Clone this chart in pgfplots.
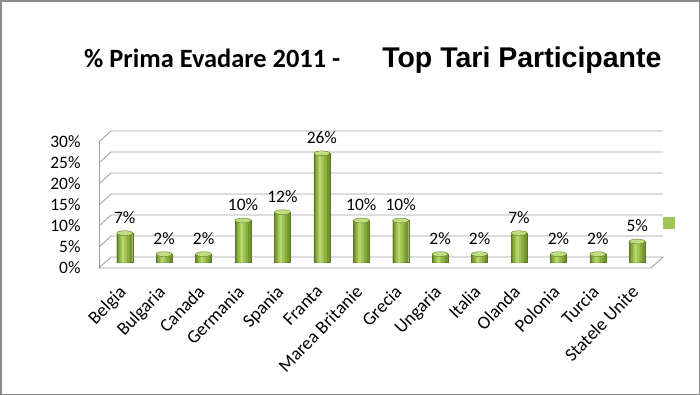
\documentclass[border=0pt]{standalone}
\usepackage{fontspec}
\setmainfont{Carlito}
\newfontfamily\arialf{Liberation Sans}
\usepackage{pgfplots}
\pgfplotsset{compat=1.18}
\definecolor{barA}{HTML}{74942F}
\definecolor{barB}{HTML}{8AAE42}
\definecolor{barC}{HTML}{A0C456}
\definecolor{barD}{HTML}{B6D86C}
\definecolor{bartop}{HTML}{C0DE80}
\definecolor{gridc}{HTML}{9E9E9E}
\definecolor{framec}{HTML}{8C8C8C}
\begin{document}
\begin{tikzpicture}
\draw[framec, line width=1.5bp] (0.75bp,-0.75bp) rectangle (699.25bp,-394.25bp);
\node[anchor=base west, inner sep=0] at (84bp,-67bp) {\fontsize{26.5}{30}\selectfont\bfseries \% Prima Evadare 2011 -\hspace*{42bp}{\arialf\fontsize{28.6}{30}\selectfont\bfseries Top Tari Participante}};
\begin{axis}[
  at={(105bp,-262.5bp)}, anchor=south west,
  scale only axis, width=552bp, height=126bp,
  xmin=-0.5, xmax=13.5, ymin=0, ymax=30,
  axis line style={draw=none}, tick style={draw=none},
  clip=false,
  /pgf/number format/assume math mode=true,
  xtick={0,...,13},
  xticklabels={Belgia,Bulgaria,Canada,Germania,Spania,Franta,Marea Britanie,Grecia,Ungaria,Italia,Olanda,Polonia,Turcia,Statele Unite},
  x tick label style={xshift=-7bp, yshift=-20bp, rotate=46, anchor=north east, font=\fontsize{18.5}{18.5}\selectfont, inner sep=1bp},
  ytick={0,5,...,30},
  yticklabels={0\%,5\%,10\%,15\%,20\%,25\%,30\%},
  y tick label style={anchor=east, font=\fontsize{17.5}{17.5}\selectfont, xshift=-21bp, yshift=-5.5bp},
  legend style={draw=none, fill=none, at={(rel axis cs:1,0.317)}, anchor=west, xshift=6bp, inner sep=0pt},
  legend image code/.code={\fill[barC] (0bp,-5.5bp) rectangle (11bp,5.5bp);},
]
\pgfplotsinvokeforeach{5,10,...,30}{
  \draw[gridc, line width=0.8bp] ([xshift=-6bp,yshift=-5.5bp]axis cs:-0.5,#1) -- ([xshift=6bp,yshift=5.5bp]axis cs:-0.5,#1) -- ([xshift=6bp,yshift=5.5bp]axis cs:13.5,#1);
}
\draw[gridc, line width=0.8bp] ([xshift=-6bp,yshift=-5.5bp]axis cs:-0.5,0) -- ([xshift=-6bp,yshift=-5.5bp]axis cs:-0.5,30);
\draw[gridc, line width=0.8bp, fill=white] ([xshift=-6bp,yshift=-5.5bp]axis cs:-0.5,0) -- ([xshift=-6bp,yshift=-5.5bp]axis cs:13.5,0) -- ([xshift=6bp,yshift=5.5bp]axis cs:13.5,0) -- ([xshift=6bp,yshift=5.5bp]axis cs:-0.5,0) -- cycle;
\addplot[ybar, bar shift=0pt, bar width=16bp, draw=barA!80!black, line width=0.4bp, fill=barA, forget plot]
coordinates {(0,7) (1,2) (2,2) (3,10) (4,12) (5,26) (6,10) (7,10) (8,2) (9,2) (10,7) (11,2) (12,2) (13,5)};
\addplot[ybar, bar shift=-0.5bp, bar width=11bp, draw=none, fill=barB, forget plot]
coordinates {(0,7) (1,2) (2,2) (3,10) (4,12) (5,26) (6,10) (7,10) (8,2) (9,2) (10,7) (11,2) (12,2) (13,5)};
\addplot[ybar, bar shift=-1bp, bar width=6.5bp, draw=none, fill=barC, forget plot]
coordinates {(0,7) (1,2) (2,2) (3,10) (4,12) (5,26) (6,10) (7,10) (8,2) (9,2) (10,7) (11,2) (12,2) (13,5)};
\addplot[ybar, bar shift=-1.5bp, bar width=2.5bp, draw=none, fill=barD, forget plot]
coordinates {(0,7) (1,2) (2,2) (3,10) (4,12) (5,26) (6,10) (7,10) (8,2) (9,2) (10,7) (11,2) (12,2) (13,5)};
\addplot[only marks, mark=*, mark size=8bp, mark options={yscale=0.3, fill=bartop, draw=barA!80!black, line width=0.4bp},
  nodes near coords={\pgfmathprintnumber{\pgfplotspointmeta}\%},
  every node near coord/.append style={text=black, font=\fontsize{17.5}{17.5}\selectfont, anchor=south, yshift=6bp}]
coordinates {(0,7) (1,2) (2,2) (3,10) (4,12) (5,26) (6,10) (7,10) (8,2) (9,2) (10,7) (11,2) (12,2) (13,5)};
\addlegendentry{}
\end{axis}
\end{tikzpicture}
\end{document}
